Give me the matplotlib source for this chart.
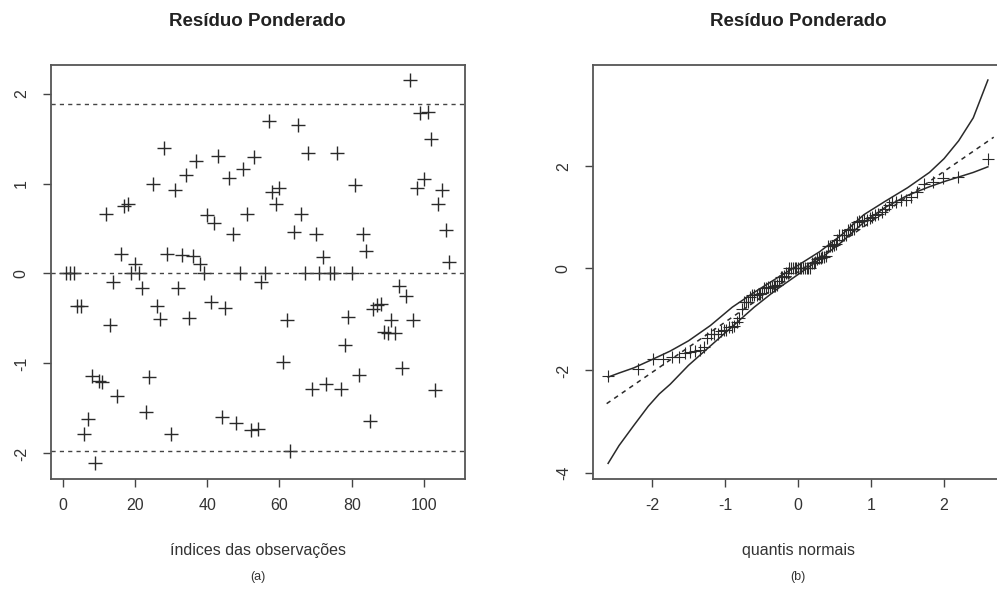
import matplotlib
matplotlib.use("Agg")
import matplotlib.pyplot as plt
import numpy as np
from statistics import NormalDist

plt.rcParams['font.family'] = ['Liberation Sans', 'DejaVu Sans']
plt.rcParams['axes.unicode_minus'] = False

# ---- data ----
residuals = [
    0.00, 0.00, 0.00, -0.36, -0.36, -1.78, -1.62, -1.14, -2.11, -1.20,   # 1-10
    -1.21, 0.66, -0.57, -0.10, -1.36, 0.22, 0.75, 0.77, 0.00, 0.11,      # 11-20
    0.00, -0.16, -1.54, -1.15, 1.00, -0.36, -0.51, 1.39, 0.22, -1.78,    # 21-30
    0.93, -0.16, 0.21, 1.10, -0.50, 0.20, 1.25, 0.11, 0.00, 0.65,        # 31-40
    -0.32, 0.56, 1.31, -1.60, -0.38, 1.06, 0.44, -1.66, 0.01, 1.16,      # 41-50
    0.66, -1.74, 1.30, -1.73, -0.09, 0.00, 1.69, 0.91, 0.77, 0.95,       # 51-60
    -0.98, -0.52, -1.97, 0.46, 1.65, 0.66, 0.00, 1.34, -1.28, 0.44,      # 61-70
    0.00, 0.18, -1.23, 0.00, 0.00, 1.34, -1.28, -0.79, -0.48, 0.00,      # 71-80
    0.98, -1.13, 0.44, 0.25, -1.64, -0.39, -0.35, -0.34, -0.65, -0.66,   # 81-90
    -0.52, -0.66, -0.14, -1.05, -0.25, 2.15, -0.52, 0.95, 1.78, 1.05,    # 91-100
    1.79, 1.50, -1.29, 0.77, 0.93, 0.48, 0.13,                           # 101-107
]
upper_limit = 1.88
lower_limit = -1.97

env_x = [-2.6, -2.45, -2.25, -2.05, -1.9, -1.75, -1.5, -1.2, -0.9, -0.6, -0.3, 0.0,
         0.3, 0.6, 0.9, 1.2, 1.5, 1.8, 2.0, 2.2, 2.4, 2.6]
env_upper = [-2.13, -2.05, -1.95, -1.82, -1.72, -1.62, -1.42, -1.12, -0.76, -0.47, -0.20, 0.06,
             0.33, 0.66, 1.05, 1.32, 1.58, 1.88, 2.15, 2.50, 2.95, 3.69]
env_lower = [-3.82, -3.47, -3.08, -2.70, -2.46, -2.27, -1.90, -1.52, -1.14, -0.76, -0.42, -0.12,
             0.18, 0.52, 0.90, 1.20, 1.43, 1.60, 1.70, 1.79, 1.88, 1.99]
env_mid_x = [-2.62, 2.68]
env_mid = [-2.65, 2.57]

titles = ["Resíduo Ponderado", "Resíduo Ponderado"]
xlabels = ["índices das observações", "quantis normais"]
panel_tags = ["(a)", "(b)"]

# ---- figure ----
W, H = 997, 590
fig = plt.figure(figsize=(W / 100, H / 100), dpi=100)
fig.patch.set_facecolor('white')

ink = '#2a2a2a'
frame = '#555555'

def style(ax):
    for s in ax.spines.values():
        s.set_color(frame)
        s.set_linewidth(1.3)
    ax.tick_params(direction='out', length=6, width=1.0, color='#444444',
                   labelsize=11.5, labelcolor='#333333')
    ax.tick_params(axis='x', pad=8)
    ax.tick_params(axis='y', pad=10)
    for lab in ax.get_yticklabels():
        lab.set_rotation(90)
        lab.set_va('center')

# left panel
axL = fig.add_axes([51 / W, 1 - 478.7 / H, (464.6 - 51) / W, (478.7 - 64.7) / H])
idx = np.arange(1, len(residuals) + 1)
axL.plot(idx, residuals, linestyle='none', marker='+', ms=10, mew=1.0, color=ink)
for yv in (upper_limit, 0.0, lower_limit):
    axL.axhline(yv, color='#444444', lw=1.0, ls=(0, (3, 3)))
n = len(residuals)
ext = 0.04 * (n - 1)
axL.set_xlim(1 - ext, n + ext)
rmin, rmax = min(residuals), max(residuals)
yext = 0.04 * (rmax - rmin)
axL.set_ylim(rmin - yext, rmax + yext)
axL.set_xticks([0, 20, 40, 60, 80, 100])
axL.set_yticks([-2, -1, 0, 1, 2])
style(axL)

# right panel (QQ plot with envelope)
axR = fig.add_axes([593 / W, 1 - 478.7 / H, 410 / W, (478.7 - 64.7) / H])
probs = [(i - 0.5) / n for i in range(1, n + 1)]
theo = [NormalDist().inv_cdf(p) for p in probs]
axR.plot(theo, sorted(residuals), linestyle='none', marker='+', ms=8, mew=0.8, color=ink)
axR.plot(env_x, env_upper, color=ink, lw=1.1)
axR.plot(env_x, env_lower, color=ink, lw=1.1)
axR.plot(env_mid_x, env_mid, color=ink, lw=1.1, ls=(0, (3, 3)))
xr = max(theo) - min(theo)
axR.set_xlim(min(theo) - 0.04 * xr, max(theo) + 0.04 * xr)
lo, hi = min(env_lower), max(env_upper)
axR.set_ylim(lo - 0.04 * (hi - lo), hi + 0.04 * (hi - lo))
axR.set_xticks([-2, -1, 0, 1, 2])
axR.set_yticks([-4, -2, 0, 2])
style(axR)

# titles and labels
centers = [(51 + 464.6) / 2, 798]
for c, t, xl, tag in zip(centers, titles, xlabels, panel_tags):
    fig.text(c / W, 1 - 22 / H, t, ha='center', va='center', fontsize=13.5,
             fontweight='bold', color='#222222')
    fig.text(c / W, 1 - 551 / H, xl, ha='center', va='center', fontsize=11.5,
             color='#333333')
    fig.text(c / W, 1 - 577 / H, tag, ha='center', va='center', fontsize=9,
             color='#333333')

fig.savefig('out.png', dpi=100, facecolor='white')
